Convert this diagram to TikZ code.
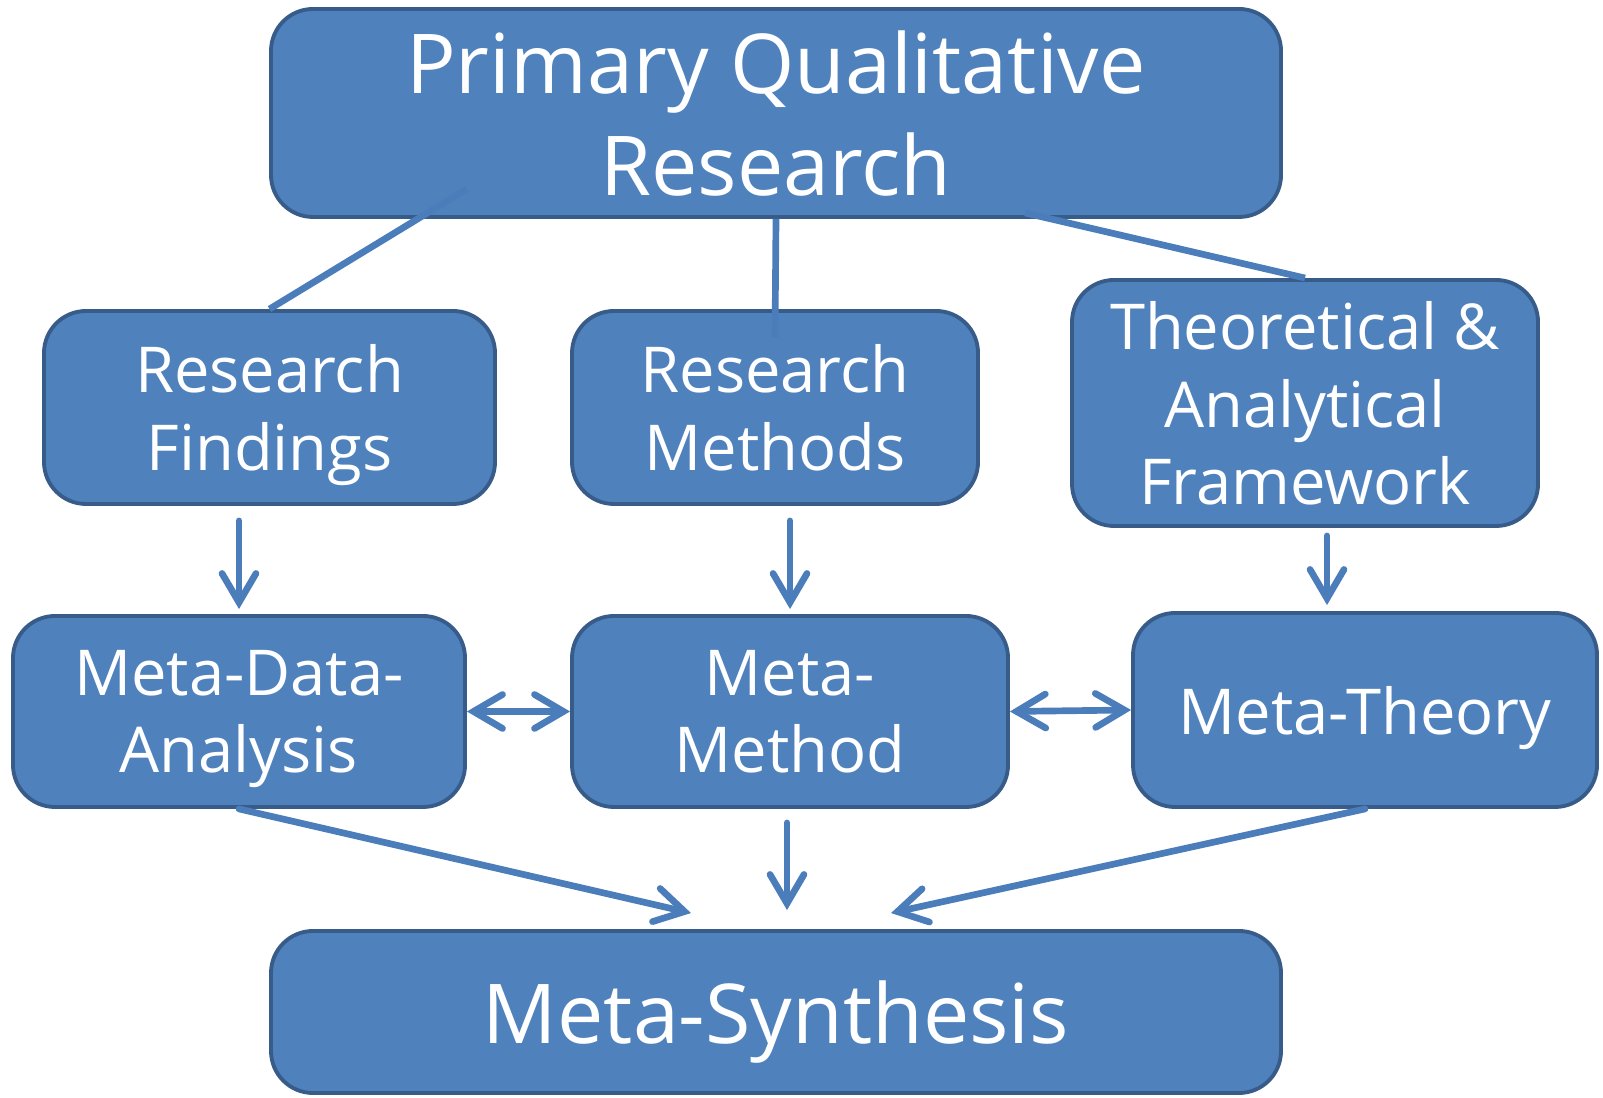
\documentclass[tikz,border=0pt]{standalone}
\usepackage{fontspec}
\setmainfont{Open Sans}
\usetikzlibrary{arrows.meta}
\definecolor{boxfill}{rgb}{0.31, 0.51, 0.74}
\definecolor{boxline}{rgb}{0.22, 0.36, 0.54}
\definecolor{linkblue}{rgb}{0.29, 0.49, 0.73}

\begin{document}
\begin{tikzpicture}[
    block/.style={draw=boxline,fill=boxfill,line width=1.1pt,rounded corners=0.42cm,
      text=white,align=center,inner sep=0pt,text depth=0pt,font=\fontsize{18}{22}\selectfont},
    link/.style={draw=linkblue,line width=1.9pt},
    arr/.style={link,line cap=round,-{Straight Barb[length=2.9mm,width=3.4mm,line cap=round]}},
    twoway/.style={link,line cap=round,{Straight Barb[length=2.9mm,width=3.4mm,line cap=round]}-{Straight Barb[length=2.9mm,width=3.4mm,line cap=round]}}
  ]
\useasboundingbox (0,0) rectangle (16.03,10.98);

\node[block,minimum width=10.1cm,minimum height=2.08cm,font=\fontsize{23.5}{29}\selectfont]
  (prim) at (7.76,9.85) {Primary Qualitative\\Research};

\node[block,minimum width=4.51cm,minimum height=1.93cm] (rf) at (2.695,6.905) {Research\\Findings};
\node[block,minimum width=4.06cm,minimum height=1.93cm] (rm) at (7.75,6.905) {Research\\Methods};
\node[block,minimum width=4.66cm,minimum height=2.46cm] (taf) at (13.05,6.95) {Theoretical \&\\Analytical\\Framework};

\node[block,minimum width=4.52cm,minimum height=1.91cm] (mda) at (2.39,3.865) {Meta-Data-\\Analysis};
\node[block,minimum width=4.36cm,minimum height=1.91cm] (mm) at (7.90,3.865) {Meta-\\Method};
\node[block,minimum width=4.64cm,minimum height=1.94cm] (mt) at (13.65,3.88) {Meta-Theory};

\node[block,minimum width=10.1cm,minimum height=1.62cm,font=\fontsize{23.5}{28}\selectfont]
  (ms) at (7.76,0.86) {Meta-Synthesis};

\draw[link] ([xshift=-3.09cm,yshift=3mm]prim.south) -- (rf.north);
\draw[link] (prim.south) -- ([yshift=-2.8mm]rm.north);
\draw[link] ([xshift=2.49cm,yshift=0.6mm]prim.south) -- (taf.north);

\draw[arr,shorten <=1.5mm,shorten >=0.5mm] (mda.north |- rf.south) -- (mda.north);
\draw[arr,shorten <=1.5mm,shorten >=0.5mm] (mm.north |- rm.south) -- (mm.north);
\draw[arr,shorten <=0.8mm,shorten >=0.6mm] ([xshift=2.2mm]taf.south) -- ([xshift=2.2mm]taf.south |- mt.north);

\draw[twoway] (mda.east) -- (mm.west);
\draw[twoway] (mm.east) -- (mt.west);

\draw[arr] (mda.south) -- ([xshift=-8.5mm,yshift=1.6mm]ms.north);
\draw[arr,shorten <=1.4mm,shorten >=1.9mm] ([xshift=-0.3mm]mm.south) -- ([xshift=-0.3mm]mm.south |- ms.north);
\draw[arr] (mt.south) -- ([xshift=11.5mm,yshift=1.6mm]ms.north);
\end{tikzpicture}
\end{document}
